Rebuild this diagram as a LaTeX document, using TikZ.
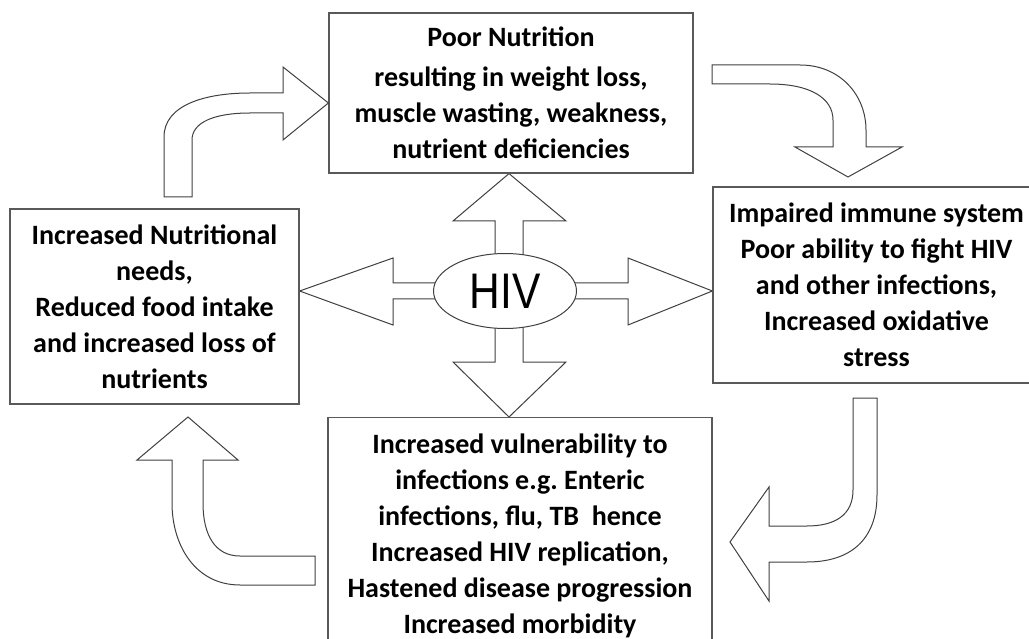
\documentclass[tikz,border=0pt]{standalone}
\usepackage{fontspec}
\setmainfont{Carlito}
\newfontfamily\hivfont{Liberation Sans}
\usetikzlibrary{calc,shapes.geometric}
\pgfdeclarelayer{bg}
\pgfsetlayers{bg,main}
\frenchspacing
\begin{document}
\begin{tikzpicture}[x=1pt,y=-1pt,
  box/.style={draw=black!65, line width=1.2pt, fill=white, align=center, inner sep=0pt,
    font=\fontsize{28pt}{36pt}\selectfont\bfseries},
  blk/.style={draw=black!75, line width=1pt, fill=white, line join=miter},
  hivnode/.style={ellipse, draw=black!75, line width=1pt, fill=white, inner sep=0pt,
    minimum width=143pt, minimum height=75pt, font=\hivfont\fontsize{50pt}{50pt}\selectfont}]
\useasboundingbox (0,0) rectangle (1029,639);
\begin{scope}
\clip (0,0) rectangle (1029,639);
% boxes
\node[box, minimum width=364pt, minimum height=160pt] (top) at (511,93)
  {Poor Nutrition\\[4pt] resulting in weight loss,\\ muscle wasting, weakness,\\ nutrient deficiencies};
\node[box, minimum width=289pt, minimum height=195pt] (left) at (154.5,306.5)
  {Increased Nutritional\\ needs,\\ Reduced food intake\\ and increased loss of\\ nutrients};
\node[box, minimum width=327pt, minimum height=196pt] (right) at (876.5,285)
  {Impaired immune system\\ Poor ability to fight HIV\\ and other infections,\\ Increased oxidative\\ stress};
\node[box, anchor=north, minimum width=384pt, inner ysep=16pt] (bot) at (520,417)
  {Increased vulnerability to\\ infections e.g. Enteric\\ infections, flu, TB\ \ hence\\ Increased HIV replication,\\ Hastened disease progression\\ Increased morbidity};
% centre
\node[hivnode] (hiv) at (505,291) {\scalebox{0.85}[1]{HIV}};
\begin{pgfonlayer}{bg}
% straight block arrows from HIV
\draw[blk] (495,0 |- hiv.center) -- (495,221) -- (453,221) -- (509,0 |- top.south)
  -- (566,221) -- (523,221) -- (523,0 |- hiv.center) -- cycle;
\draw[blk] (495,0 |- hiv.center) -- (495,362) -- (453,362) -- (509,0 |- bot.north)
  -- (566,362) -- (523,362) -- (523,0 |- hiv.center) -- cycle;
\draw[blk] (hiv.center |- 0,283) -- (393,283) -- (393,258) -- (left.east |- 0,291)
  -- (393,325) -- (393,299) -- (hiv.center |- 0,299) -- cycle;
\draw[blk] (hiv.center |- 0,283) -- (628,283) -- (628,258) -- (right.west |- 0,291)
  -- (628,325) -- (628,299) -- (hiv.center |- 0,299) -- cycle;
\end{pgfonlayer}
% curved block arrows of the cycle
\draw[blk] (164,197) -- (164,137) .. controls (164,105) and (205,93) .. (250,93)
  -- (283,93) -- (283,67) -- (top.west |- 0,103) -- (283,140) -- (283,113) -- (250,113)
  .. controls (215,113) and (192,122) .. (192,140) -- (192,197) -- cycle;
\draw[blk] (712,65) -- (800,65) .. controls (840,65) and (866,95) .. (866,130)
  -- (866,147) -- (902,147) -- (848,177) -- (795,147) -- (833,147) -- (833,120)
  .. controls (833,98) and (810,84) .. (770,84) -- (712,84) -- cycle;
\draw[blk] (853,398) -- (853,490) .. controls (853,515) and (835,526) .. (807,526)
  -- (769,526) -- (769,487) -- (730,542) -- (769,601) -- (769,562) -- (807,562)
  .. controls (850,562) and (877,540) .. (877,495) -- (877,398) -- cycle;
\draw[blk] (172,460) -- (137,460) -- (188,417) -- (238,460) -- (203,460) -- (203,503)
  .. controls (203,535) and (215,556) .. (240,556) -- (315,556) -- (315,585) -- (240,585)
  .. controls (195,585) and (172,545) .. (172,503) -- cycle;
\end{scope}
\end{tikzpicture}
\end{document}
